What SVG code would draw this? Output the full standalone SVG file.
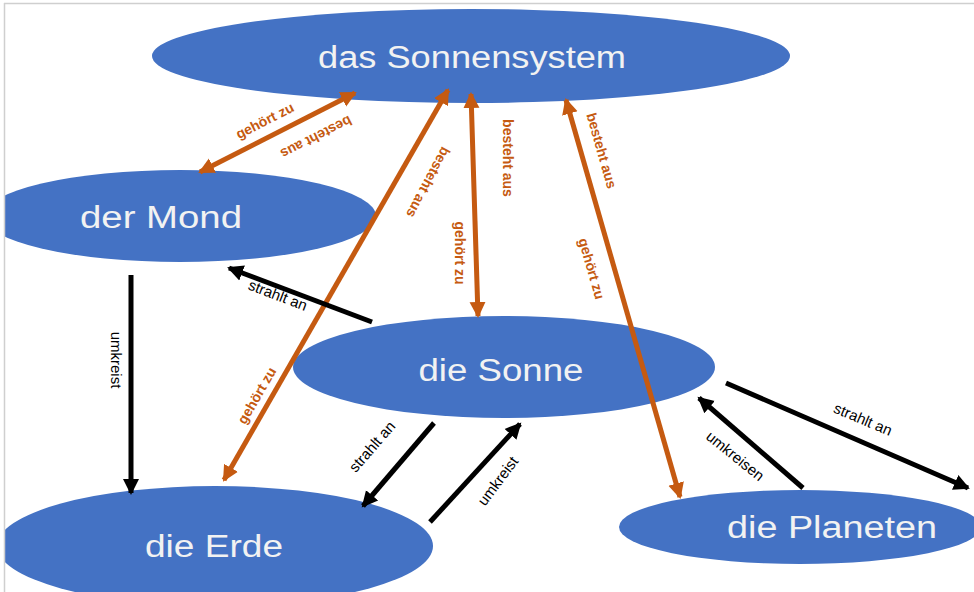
<svg xmlns="http://www.w3.org/2000/svg" width="974" height="592" viewBox="0 0 974 592">
<style>
.node{fill:#4472C4}
.nt{fill:#F2F2F2;font-family:"Liberation Sans",Arial,sans-serif;font-size:31px;text-anchor:middle}
.or{stroke:#C55A11;stroke-width:5;fill:none}
.bk{stroke:#000;stroke-width:5;fill:none}
.ol{fill:#C55A11;font-family:"Liberation Sans",Arial,sans-serif;font-size:14px;font-weight:bold;text-anchor:middle}
.bl{fill:#000;font-family:"Liberation Sans",Arial,sans-serif;font-size:15px;text-anchor:middle}
</style>
<defs>
<marker id="ao" markerUnits="userSpaceOnUse" markerWidth="18" markerHeight="18" viewBox="0 0 18 18" refX="14" refY="9" orient="auto-start-reverse"><path d="M0,1 L16,9 L0,17 Z" fill="#C55A11"/></marker>
<marker id="ab" markerUnits="userSpaceOnUse" markerWidth="18" markerHeight="18" viewBox="0 0 18 18" refX="14" refY="9" orient="auto"><path d="M0,1 L16,9 L0,17 Z" fill="#000"/></marker>
</defs>
<rect width="974" height="592" fill="#fff"/>
<g id="sonnensystem"><ellipse class="node" cx="471" cy="56" rx="319" ry="47"/><text class="nt" x="472" y="68" textLength="308" lengthAdjust="spacingAndGlyphs">das Sonnensystem</text></g>
<g id="mond"><ellipse class="node" cx="180" cy="216" rx="196" ry="46"/><text class="nt" x="161" y="228" textLength="162" lengthAdjust="spacingAndGlyphs">der Mond</text></g>
<g id="sonne"><ellipse class="node" cx="504" cy="367" rx="211" ry="51"/><text class="nt" x="501" y="381" textLength="165" lengthAdjust="spacingAndGlyphs">die Sonne</text></g>
<g id="erde"><ellipse class="node" cx="215" cy="546" rx="218" ry="60"/><text class="nt" x="214" y="557" textLength="138" lengthAdjust="spacingAndGlyphs">die Erde</text></g>
<g id="planeten"><ellipse class="node" cx="800" cy="527" rx="181" ry="37"/><text class="nt" x="832" y="538" textLength="210" lengthAdjust="spacingAndGlyphs">die Planeten</text></g>
<g id="connectors">
<line class="or" x1="200" y1="172" x2="355" y2="93" marker-start="url(#ao)" marker-end="url(#ao)"/>
<line class="or" x1="224" y1="480" x2="448" y2="90" marker-start="url(#ao)" marker-end="url(#ao)"/>
<line class="or" x1="478" y1="316" x2="471" y2="94" marker-start="url(#ao)" marker-end="url(#ao)"/>
<line class="or" x1="680" y1="497" x2="566" y2="100" marker-start="url(#ao)" marker-end="url(#ao)"/>
<line class="bk" x1="131" y1="275" x2="131" y2="493" marker-end="url(#ab)"/>
<line class="bk" x1="372" y1="322" x2="229" y2="268" marker-end="url(#ab)"/>
<line class="bk" x1="434" y1="423" x2="363" y2="506" marker-end="url(#ab)"/>
<line class="bk" x1="430" y1="522" x2="520" y2="424" marker-end="url(#ab)"/>
<line class="bk" x1="803" y1="488" x2="699" y2="398" marker-end="url(#ab)"/>
<line class="bk" x1="726" y1="383" x2="968" y2="488" marker-end="url(#ab)"/>
<text class="ol" transform="translate(267,125) rotate(-27)">gehört zu</text>
<text class="ol" transform="translate(314,133) rotate(153)">besteht aus</text>
<text class="ol" transform="translate(261,398) rotate(-60)">gehört zu</text>
<text class="ol" transform="translate(424,180) rotate(118)">besteht aus</text>
<text class="ol" transform="translate(503,158) rotate(90)">besteht aus</text>
<text class="ol" transform="translate(455,253) rotate(90)">gehört zu</text>
<text class="ol" transform="translate(597,152) rotate(74)">besteht aus</text>
<text class="ol" transform="translate(587,270) rotate(74)">gehört zu</text>
<text class="bl" transform="translate(111,360) rotate(90)">umkreist</text>
<text class="bl" transform="translate(276,300) rotate(21)">strahlt an</text>
<text class="bl" transform="translate(376,450) rotate(-49)">strahlt an</text>
<text class="bl" transform="translate(502,484) rotate(-53)">umkreist</text>
<text class="bl" transform="translate(732,460) rotate(39)">umkreisen</text>
<text class="bl" transform="translate(861,424) rotate(23)">strahlt an</text>
</g>
<g id="frame"><rect x="0" y="0" width="4" height="592" fill="#fff"/><rect x="0" y="0" width="974" height="3" fill="#fff"/><g stroke="#cfcfcf" stroke-width="1.5"><line x1="4" y1="3.5" x2="974" y2="3.5"/><line x1="4.5" y1="3" x2="4.5" y2="592"/></g></g>
</svg>
